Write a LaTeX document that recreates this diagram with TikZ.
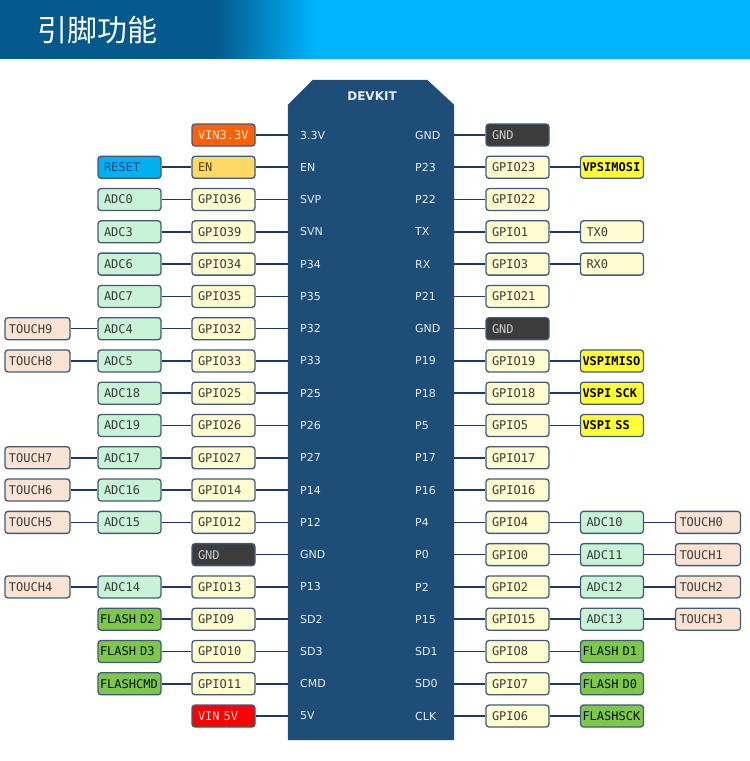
\documentclass[tikz,border=0pt]{standalone}
\usepackage{fontspec}
\setsansfont{DejaVu Sans}
\setmonofont{DejaVu Sans Mono}
\newfontfamily\cjk{Noto Sans CJK SC}
\usetikzlibrary{positioning, calc}
\definecolor{HdrDark}{HTML}{04598C}
\definecolor{HdrLight}{HTML}{00B4FE}
\definecolor{Board}{HTML}{1E4D78}
\definecolor{PinText}{HTML}{E6EDF5}
\definecolor{BoxLine}{HTML}{3F5B76}
\definecolor{BoxText}{HTML}{3A3A3A}
\definecolor{Wire}{HTML}{1F3864}
\definecolor{GpioFill}{HTML}{FFFCCF}
\definecolor{AdcFill}{HTML}{C9F3D6}
\definecolor{TouchFill}{HTML}{FBE3D4}
\definecolor{VinLowFill}{HTML}{FF6108}
\definecolor{VinHighFill}{HTML}{FF0000}
\definecolor{EnFill}{HTML}{FFD966}
\definecolor{RstFill}{HTML}{00B0F0}
\definecolor{GndFill}{HTML}{3C3C3C}
\definecolor{SpiFill}{HTML}{FFFF33}
\definecolor{FlashFill}{HTML}{7EC74A}

\begin{document}
\begin{tikzpicture}[x=1pt, y=-1pt,
    pinbox/.style={rectangle, rounded corners=3pt, draw=BoxLine, line width=1.3pt,
      text width=51pt, inner xsep=6pt, inner ysep=0pt, minimum height=22pt,
      align=left, text=BoxText, font=\fontsize{12}{13}\selectfont\ttfamily},
    widebox/.style={text width=59pt, inner xsep=2pt},
    gpiobox/.style={pinbox, fill=GpioFill},
    adcbox/.style={pinbox, fill=AdcFill},
    touchbox/.style={pinbox, fill=TouchFill, text width=57pt, inner xsep=4pt},
    flashbox/.style={pinbox, widebox, fill=FlashFill, text=black!80!green!40!black},
    spibox/.style={pinbox, widebox, fill=SpiFill, text=black,
      font=\fontsize{12}{13}\selectfont\ttfamily\bfseries},
    gndbox/.style={pinbox, fill=GndFill, text=white!80!black},
    rstbox/.style={pinbox, fill=RstFill, text=Board},
    enbox/.style={pinbox, fill=EnFill, text=black!70!EnFill},
    vinlowbox/.style={pinbox, fill=VinLowFill, text=white!85!VinLowFill},
    vinhighbox/.style={pinbox, fill=VinHighFill, text=white!90!red},
    pinlbl/.style={anchor=west, inner sep=0pt, text=PinText,
      font=\fontsize{11}{12}\selectfont\sffamily},
    wire/.style={draw=Wire, line width=1.6pt}
  ]
  \useasboundingbox (0,0) rectangle (750,761);

  % header band
  \fill[HdrDark] (0,0) rectangle (750,58.5);
  \shade[left color=HdrDark, right color=HdrLight] (215,0) rectangle (315,58.5);
  \fill[HdrLight] (314.5,0) rectangle (750,58.5);
  \node[anchor=west, inner sep=0pt, text=white, font=\cjk\fontsize{30}{30}\selectfont]
    (title) at (37,30) {引脚功能};

  % board
  \node[rectangle, minimum width=166pt, minimum height=660pt, inner sep=0pt]
    (board) at (371,410) {};
  \fill[Board] (board.south west) -- ([yshift=-25pt]board.north west)
    -- ([xshift=25pt]board.north west) -- ([xshift=-27pt]board.north east)
    -- ([yshift=-25pt]board.north east) -- (board.south east) -- cycle;
  \node[text=PinText, font=\fontsize{12}{14}\selectfont\sffamily\bfseries]
    (devkit) at (372,96) {DEVKIT};

  % pins on the board
  \foreach \i/\p in {0/3.3V,1/EN,2/SVP,3/SVN,4/P34,5/P35,6/P32,7/P33,8/P25,9/P26,
      10/P27,11/P14,12/P12,13/GND,14/P13,15/SD2,16/SD3,17/CMD,18/5V}
    \node[pinlbl] (pl\i) at (300,135+32.28*\i) {\p};
  \foreach \i/\p in {0/GND,1/P23,2/P22,3/TX,4/RX,5/P21,6/GND,7/P19,8/P18,9/P5,
      10/P17,11/P16,12/P4,13/P0,14/P2,15/P15,16/SD1,17/SD0,18/CLK}
    \node[pinlbl] (pr\i) at (415,135+32.28*\i) {\p};

  % left side
  \foreach \i/\t/\s in {0/VIN3.3V/vinlowbox,1/EN/enbox,2/GPIO36/gpiobox,3/GPIO39/gpiobox,
      4/GPIO34/gpiobox,5/GPIO35/gpiobox,6/GPIO32/gpiobox,7/GPIO33/gpiobox,8/GPIO25/gpiobox,
      9/GPIO26/gpiobox,10/GPIO27/gpiobox,11/GPIO14/gpiobox,12/GPIO12/gpiobox,13/GND/gndbox,
      14/GPIO13/gpiobox,15/GPIO9/gpiobox,16/GPIO10/gpiobox,17/GPIO11/gpiobox,18/VIN 5V/vinhighbox} {
    \node[\s] (gl\i) at (223.5,135+32.28*\i) {\t};
    \draw[wire] (gl\i.east) -- (gl\i.east -| board.west);
  }
  \foreach \i/\t/\s in {1/RESET/rstbox,2/ADC0/adcbox,3/ADC3/adcbox,4/ADC6/adcbox,5/ADC7/adcbox,
      6/ADC4/adcbox,7/ADC5/adcbox,8/ADC18/adcbox,9/ADC19/adcbox,10/ADC17/adcbox,11/ADC16/adcbox,
      12/ADC15/adcbox,14/ADC14/adcbox,15/FLASH D2/flashbox,16/FLASH D3/flashbox,17/FLASHCMD/flashbox} {
    \node[\s] (al\i) at (129.5,135+32.28*\i) {\t};
    \draw[wire] (al\i) -- (gl\i);
  }
  \foreach \i/\t in {6/TOUCH9,7/TOUCH8,10/TOUCH7,11/TOUCH6,12/TOUCH5,14/TOUCH4} {
    \node[touchbox] (tl\i) at (37.5,135+32.28*\i) {\t};
    \draw[wire] (tl\i) -- (al\i);
  }

  % right side
  \foreach \i/\t/\s in {0/GND/gndbox,1/GPIO23/gpiobox,2/GPIO22/gpiobox,3/GPIO1/gpiobox,
      4/GPIO3/gpiobox,5/GPIO21/gpiobox,6/GND/gndbox,7/GPIO19/gpiobox,8/GPIO18/gpiobox,
      9/GPIO5/gpiobox,10/GPIO17/gpiobox,11/GPIO16/gpiobox,12/GPIO4/gpiobox,13/GPIO0/gpiobox,
      14/GPIO2/gpiobox,15/GPIO15/gpiobox,16/GPIO8/gpiobox,17/GPIO7/gpiobox,18/GPIO6/gpiobox} {
    \node[\s] (gr\i) at (517.5,135+32.28*\i) {\t};
    \draw[wire] (gr\i.west -| board.east) -- (gr\i.west);
  }
  \foreach \i/\t/\s in {1/VPSIMOSI/spibox,3/TX0/gpiobox,4/RX0/gpiobox,7/VSPIMISO/spibox,
      8/VSPI SCK/spibox,9/VSPI SS/spibox,12/ADC10/adcbox,13/ADC11/adcbox,14/ADC12/adcbox,
      15/ADC13/adcbox,16/FLASH D1/flashbox,17/FLASH D0/flashbox,18/FLASHSCK/flashbox} {
    \node[\s] (ar\i) at (612,135+32.28*\i) {\t};
    \draw[wire] (gr\i) -- (ar\i);
  }
  \foreach \i/\t in {12/TOUCH0,13/TOUCH1,14/TOUCH2,15/TOUCH3} {
    \node[touchbox] (tr\i) at (708,135+32.28*\i) {\t};
    \draw[wire] (ar\i) -- (tr\i);
  }
\end{tikzpicture}
\end{document}
